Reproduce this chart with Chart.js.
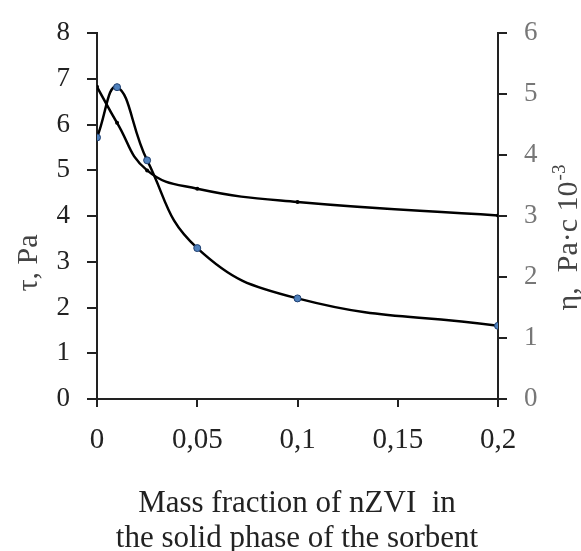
<!DOCTYPE html>
<html lang="en">
<head>
    <meta charset="UTF-8">
    <title>nZVI sorbent</title>
    <style>
        body { margin: 0; background: #fff; }
        .wrap { width: 581px; height: 551px; }
    </style>
    <script src="https://cdn.jsdelivr.net/npm/chart.js"></script>
</head>
<body>
<div class="wrap"><canvas id="chart" width="581" height="551"></canvas></div>
<script>
    // mass fraction of nZVI
    const massFraction = [0, 0.01, 0.025, 0.05, 0.1, 0.2];
    // tau, Pa (left axis)
    const tauValues = [5.72, 6.82, 5.22, 3.3, 2.2, 1.6];
    // eta, Pa*s 10^-3 (right axis)
    const etaValues = [5.12, 4.53, 3.75, 3.45, 3.23, 3.01];

    const xTickLabels = ['0', '0,05', '0,1', '0,15', '0,2'];
    const leftTicks = [0, 1, 2, 3, 4, 5, 6, 7, 8];
    const rightTicks = [0, 1, 2, 3, 4, 5, 6];

    const serif = '"Liberation Serif", "Times New Roman", serif';

    const titles = {
        id: 'titles',
        afterDraw(chart) {
            const c = chart.ctx;
            c.save();
            c.font = '31px ' + serif;
            c.textAlign = 'center';
            c.textBaseline = 'alphabetic';
            c.fillStyle = '#222';
            c.fillText('Mass fraction of nZVI  in', 297, 512);
            c.fillText('the solid phase of the sorbent', 297, 547);

            // left title
            c.font = '30px ' + serif;
            c.fillStyle = '#444';
            c.save();
            c.translate(37, 263);
            c.rotate(-Math.PI / 2);
            c.fillText('τ, Pa', 0, 0);
            c.restore();

            // right title with superscript
            c.save();
            c.translate(577, 238);
            c.rotate(-Math.PI / 2);
            const main = 'η,  Pa·c 10';
            const sup = '-3';
            c.font = '30px ' + serif;
            const w1 = c.measureText(main).width;
            c.font = '19px ' + serif;
            const w2 = c.measureText(sup).width;
            const x0 = -(w1 + w2) / 2;
            c.textAlign = 'left';
            c.font = '30px ' + serif;
            c.fillText(main, x0, 0);
            c.font = '19px ' + serif;
            c.fillText(sup, x0 + w1 + 1, -12);
            c.restore();
            c.restore();
        }
    };

    new Chart(document.getElementById('chart'), {
        type: 'line',
        data: {
            datasets: [
                {
                    label: 'tau',
                    data: massFraction.map((x, i) => ({ x: x, y: tauValues[i] })),
                    yAxisID: 'y',
                    borderColor: '#000',
                    borderWidth: 2.5,
                    tension: 0.45,
                    pointRadius: 3.5,
                    pointBackgroundColor: '#4f81bd',
                    pointBorderColor: '#1f3f6f',
                    pointBorderWidth: 1
                },
                {
                    label: 'eta',
                    data: massFraction.map((x, i) => ({ x: x, y: etaValues[i] })),
                    yAxisID: 'y1',
                    borderColor: '#000',
                    borderWidth: 2.5,
                    tension: 0.45,
                    pointRadius: 2,
                    pointBackgroundColor: '#000',
                    pointBorderColor: '#000',
                    pointBorderWidth: 0
                }
            ]
        },
        options: {
            responsive: false,
            animation: false,
            layout: { padding: { top: 23, left: 0, right: 0, bottom: 0 } },
            plugins: { legend: { display: false }, tooltip: { enabled: false } },
            scales: {
                x: {
                    type: 'linear',
                    min: 0,
                    max: 0.2,
                    afterBuildTicks: s => { s.ticks = [0, 0.05, 0.1, 0.15, 0.2].map(v => ({ value: v })); },
                    afterFit: s => { s.height = 152; },
                    ticks: {
                        callback: (v, i) => xTickLabels[i],
                        color: '#222',
                        font: { family: serif, size: 29 },
                        padding: 16,
                        maxRotation: 0
                    },
                    grid: { drawOnChartArea: false, drawTicks: true, tickLength: 8, color: '#222', lineWidth: 2 },
                    border: { display: true, color: '#222', width: 2 }
                },
                y: {
                    position: 'left',
                    min: 0,
                    max: 8,
                    afterBuildTicks: s => { s.ticks = leftTicks.map(v => ({ value: v })); },
                    afterFit: s => { s.width = 97; },
                    ticks: {
                        color: '#222',
                        font: { family: serif, size: 27 },
                        padding: 17
                    },
                    grid: { drawOnChartArea: false, drawTicks: true, tickLength: 10, color: '#222', lineWidth: 2 },
                    border: { display: true, color: '#222', width: 2 }
                },
                y1: {
                    position: 'right',
                    min: 0,
                    max: 6,
                    afterBuildTicks: s => { s.ticks = rightTicks.map(v => ({ value: v })); },
                    afterFit: s => { s.width = 83; },
                    ticks: {
                        color: '#777',
                        font: { family: serif, size: 27 },
                        padding: 17
                    },
                    grid: { drawOnChartArea: false, drawTicks: true, tickLength: 9, color: '#222', lineWidth: 2 },
                    border: { display: true, color: '#222', width: 2 }
                }
            }
        },
        plugins: [titles]
    });
</script>
</body>
</html>
